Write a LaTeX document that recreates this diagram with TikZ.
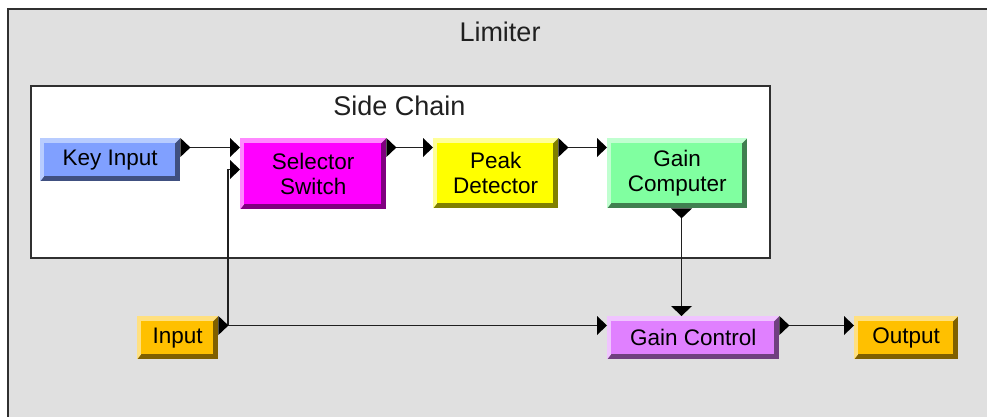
\documentclass[tikz,border=0pt]{standalone}
\usepackage{fontspec}
\setmainfont{Liberation Sans}
\usetikzlibrary{calc}
\definecolor{bggray}{HTML}{E0E0E0}
\definecolor{framec}{HTML}{303030}
\definecolor{linec}{HTML}{202020}
\definecolor{titlec}{HTML}{202020}
\definecolor{keyF}{HTML}{80A0FF}\definecolor{keyL}{HTML}{B8CCFF}\definecolor{keyD}{HTML}{405080}
\definecolor{selF}{HTML}{FF00FF}\definecolor{selL}{HTML}{FF88FF}\definecolor{selD}{HTML}{800080}
\definecolor{pkF}{HTML}{FFFF00}\definecolor{pkL}{HTML}{FFFF98}\definecolor{pkD}{HTML}{808000}
\definecolor{gcF}{HTML}{80FFA0}\definecolor{gcL}{HTML}{C0FFD0}\definecolor{gcD}{HTML}{408050}
\definecolor{ctF}{HTML}{E080FF}\definecolor{ctL}{HTML}{F0C4FF}\definecolor{ctD}{HTML}{704080}
\definecolor{ioF}{HTML}{FFC000}\definecolor{ioL}{HTML}{FFE080}\definecolor{ioD}{HTML}{806000}
\newcommand{\bevelpic}[2]{%
  \fill[#1] (path picture bounding box.south west) -- (path picture bounding box.north west)
    -- (path picture bounding box.north east) -- ([xshift=-5pt,yshift=-5pt]path picture bounding box.north east)
    -- ([xshift=4pt,yshift=-5pt]path picture bounding box.north west) -- ([xshift=4pt,yshift=5pt]path picture bounding box.south west) -- cycle;
  \fill[#2] ([xshift=4pt,yshift=-5pt]path picture bounding box.north west) rectangle ([xshift=-5pt,yshift=5pt]path picture bounding box.south east);
}
\tikzset{
  blk/.style n args={3}{rectangle, inner sep=0pt, anchor=north west, fill=#3,
    path picture={\bevelpic{#2}{#1}}, align=center, text=black,
    font=\fontsize{22.5}{25}\selectfont},
  title/.style={font=\fontsize{27}{30}\selectfont, text=titlec, inner sep=0pt, anchor=base},
  conn/.style={draw=linec, line width=1.6pt},
  portc/.style={fill=black},
}
\begin{document}
\begin{tikzpicture}[x=1pt,y=-1pt]
\useasboundingbox (0,0) rectangle (987,417);
\fill[white] (0,0) rectangle (987,417);
\fill[bggray] (8,9) rectangle (987,417);
\draw[framec, line width=2.2pt] (8,418) -- (8,9) -- (988,9);
\node[title] (limtitle) at (500,42) {Limiter};
% side chain frame
\node[draw=framec, line width=1.6pt, fill=white, inner sep=0pt, minimum width=739pt, minimum height=172pt, anchor=north west] (side) at (30,85) {};
\node[title] (sctitle) at (399.5,116) {Side Chain};
% blocks
\node[blk={keyF}{keyL}{keyD}, minimum width=140pt, minimum height=43pt] (key) at (40,138) {Key Input};
\node[blk={selF}{selL}{selD}, minimum width=146pt, minimum height=71pt] (sel) at (240,138) {Selector\\Switch};
\node[blk={pkF}{pkL}{pkD}, minimum width=125pt, minimum height=70pt] (peak) at (433,138) {Peak\\Detector};
\node[blk={gcF}{gcL}{gcD}, minimum width=140pt, minimum height=70pt] (gcomp) at (607,138) {Gain\\Computer};
\node[blk={ioF}{ioL}{ioD}, minimum width=81pt, minimum height=43pt] (input) at (137,316) {Input};
\node[blk={ctF}{ctL}{ctD}, minimum width=172pt, minimum height=43pt] (gctrl) at (607,316) {Gain Control};
\node[blk={ioF}{ioL}{ioD}, minimum width=104pt, minimum height=43pt] (output) at (854,316) {Output};
% port coordinates (tips of output ports, bases of input ports)
\coordinate (keyO)  at ([xshift=10pt,yshift=-9.5pt]key.north east);
\coordinate (selI1) at ([xshift=-10pt,yshift=-9.5pt]sel.north west);
\coordinate (selI2) at ([xshift=-10pt,yshift=-31.5pt]sel.north west);
\coordinate (selJ)  at ([xshift=-12pt,yshift=-31.5pt]sel.north west);
\coordinate (selO)  at ([xshift=10pt,yshift=-9.5pt]sel.north east);
\coordinate (peakI) at ([xshift=-10pt,yshift=-9.5pt]peak.north west);
\coordinate (peakO) at ([xshift=10pt,yshift=-9.5pt]peak.north east);
\coordinate (gcI)   at ([xshift=-10pt,yshift=-9.5pt]gcomp.north west);
\coordinate (gcO)   at ([xshift=74.5pt,yshift=-10pt]gcomp.south west);
\coordinate (inO)   at ([xshift=10pt,yshift=-9.5pt]input.north east);
\coordinate (ctI)   at ([xshift=-10pt,yshift=-9.5pt]gctrl.north west);
\coordinate (ctT)   at ([xshift=74.5pt,yshift=10pt]gctrl.north west);
\coordinate (ctO)   at ([xshift=10pt,yshift=-9.5pt]gctrl.north east);
\coordinate (outI)  at ([xshift=-10pt,yshift=-9.5pt]output.north west);
\coordinate (bend)  at (inO -| selJ);
% connectors
\draw[conn] (keyO) -- (selI1);
\draw[conn] (selO) -- (peakI);
\draw[conn] (peakO) -- (gcI);
\draw[conn] (gcO) -- (ctT);
\draw[conn] (inO) -- (ctI);
\draw[conn] (bend) -- (selJ) -- (selI2);
\draw[conn] (ctO) -- (outI);
% ports: outputs (right-pointing, on right edge)
\foreach \n in {key,sel,peak,input,gctrl}{
  \fill[portc] (\n.north east) -- ([xshift=10pt,yshift=-9.5pt]\n.north east) -- ([yshift=-19pt]\n.north east) -- cycle;
}
% ports: inputs (right-pointing, tip on left edge)
\foreach \n in {sel,peak,gcomp,gctrl,output}{
  \fill[portc] ([yshift=-9.5pt]\n.north west) -- ([xshift=-10pt]\n.north west) -- ([xshift=-10pt,yshift=-19pt]\n.north west) -- cycle;
}
\fill[portc] ([yshift=-31.5pt]sel.north west) -- ([xshift=-10pt,yshift=-22pt]sel.north west) -- ([xshift=-10pt,yshift=-41pt]sel.north west) -- cycle;
% vertical ports
\fill[portc] ([xshift=64pt]gcomp.south west) -- ([xshift=85pt]gcomp.south west) -- (gcO) -- cycle;
\fill[portc] ([xshift=64pt,yshift=10pt]gctrl.north west) -- ([xshift=85pt,yshift=10pt]gctrl.north west) -- ([xshift=74.5pt]gctrl.north west) -- cycle;
\end{tikzpicture}
\end{document}
